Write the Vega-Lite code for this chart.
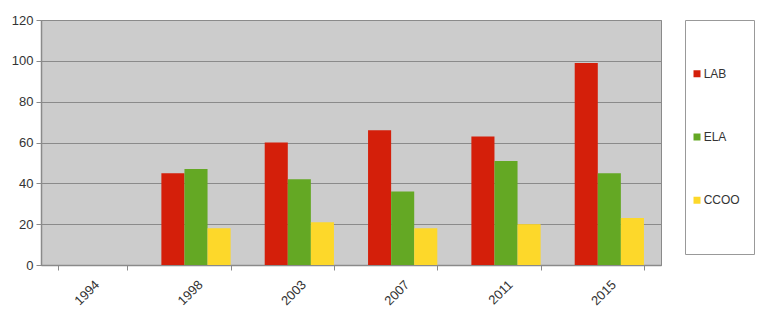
{
  "$schema": "https://vega.github.io/schema/vega-lite/v6.json",
  "padding": {"left": 10, "top": 13, "right": 5, "bottom": 5},
  "background": "white",
  "spacing": 22,
  "data": {
    "values": [
      {"year": "1998", "series": "LAB", "value": 45},
      {"year": "1998", "series": "ELA", "value": 47},
      {"year": "1998", "series": "CCOO", "value": 18},
      {"year": "2003", "series": "LAB", "value": 60},
      {"year": "2003", "series": "ELA", "value": 42},
      {"year": "2003", "series": "CCOO", "value": 21},
      {"year": "2007", "series": "LAB", "value": 66},
      {"year": "2007", "series": "ELA", "value": 36},
      {"year": "2007", "series": "CCOO", "value": 18},
      {"year": "2011", "series": "LAB", "value": 63},
      {"year": "2011", "series": "ELA", "value": 51},
      {"year": "2011", "series": "CCOO", "value": 20},
      {"year": "2015", "series": "LAB", "value": 99},
      {"year": "2015", "series": "ELA", "value": 45},
      {"year": "2015", "series": "CCOO", "value": 23}
    ]
  },
  "hconcat": [
    {
      "width": 620,
      "height": 245,
      "view": {"fill": "#cccccc", "stroke": "#8a8a8a", "strokeWidth": 1},
      "mark": {"type": "bar"},
      "encoding": {
        "x": {
          "field": "year",
          "type": "nominal",
          "scale": {
            "domain": ["1994", "1998", "2003", "2007", "2011", "2015"],
            "paddingInner": 0.33,
            "paddingOuter": 0.165
          },
          "axis": {
            "title": null,
            "labelAngle": -45,
            "tickBand": "extent",
            "labelPadding": 8,
            "tickSize": 5,
            "tickColor": "#8a8a8a",
            "domainColor": "#8a8a8a",
            "domainWidth": 1.5,
            "labelColor": "#333333",
            "labelFontSize": 13,
            "labelFont": "Liberation Sans"
          }
        },
        "xOffset": {
          "field": "series",
          "type": "nominal",
          "sort": ["LAB", "ELA", "CCOO"],
          "scale": {"paddingInner": 0, "paddingOuter": 0}
        },
        "y": {
          "field": "value",
          "type": "quantitative",
          "scale": {"domain": [0, 120], "nice": false},
          "axis": {
            "title": null,
            "values": [0, 20, 40, 60, 80, 100, 120],
            "grid": true,
            "gridColor": "#8a8a8a",
            "gridWidth": 1,
            "tickSize": 5,
            "tickColor": "#8a8a8a",
            "domainColor": "#8a8a8a",
            "domainWidth": 1.5,
            "labelPadding": 3,
            "labelColor": "#333333",
            "labelFontSize": 13,
            "labelFont": "Liberation Sans"
          }
        },
        "color": {
          "field": "series",
          "type": "nominal",
          "scale": {
            "domain": ["LAB", "ELA", "CCOO"],
            "range": ["#d41f0a", "#64a824", "#fdd82a"]
          },
          "legend": null
        }
      }
    },
    {
      "width": 69,
      "height": 234,
      "view": {"fill": "white", "stroke": "#999999", "strokeWidth": 1},
      "transform": [
        {"aggregate": [{"op": "count", "as": "n"}], "groupby": ["series"]}
      ],
      "layer": [
        {
          "mark": {"type": "square", "size": 49, "opacity": 1, "filled": true},
          "encoding": {
            "x": {"datum": 0.174, "type": "quantitative", "scale": {"domain": [0, 1]}, "axis": null},
            "y": {
              "field": "series",
              "type": "nominal",
              "scale": {"type": "point", "domain": ["LAB", "ELA", "CCOO"], "padding": 0.85},
              "axis": null
            },
            "color": {
              "field": "series",
              "type": "nominal",
              "scale": {
                "domain": ["LAB", "ELA", "CCOO"],
                "range": ["#d41f0a", "#64a824", "#fdd82a"]
              },
              "legend": null
            }
          }
        },
        {
          "mark": {"type": "text", "align": "left", "baseline": "middle", "fontSize": 12, "fontWeight": "normal", "font": "Liberation Sans", "color": "#333333", "opacity": 1},
          "encoding": {
            "x": {"datum": 0.27, "type": "quantitative", "scale": {"domain": [0, 1]}, "axis": null},
            "y": {
              "field": "series",
              "type": "nominal",
              "scale": {"type": "point", "domain": ["LAB", "ELA", "CCOO"], "padding": 0.85},
              "axis": null
            },
            "text": {"field": "series"}
          }
        }
      ]
    }
  ]
}
